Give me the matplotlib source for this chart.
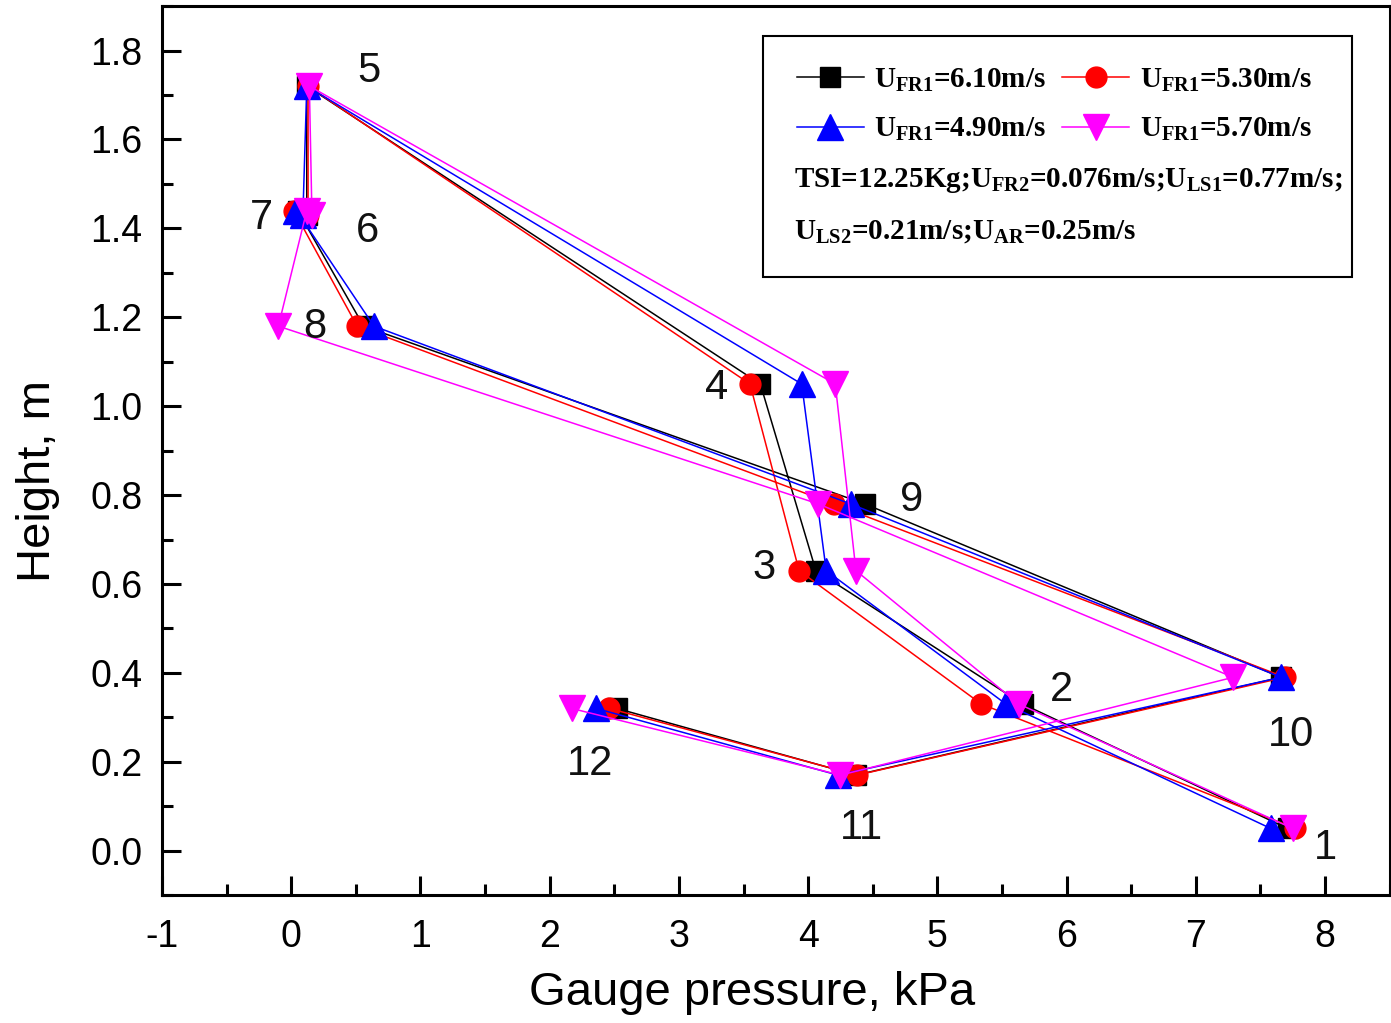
import matplotlib
matplotlib.use("Agg")
import matplotlib.pyplot as plt
from matplotlib.ticker import MultipleLocator
from matplotlib.patches import Rectangle

plt.rcParams['font.family'] = ['Liberation Sans', 'DejaVu Sans']
plt.rcParams['axes.unicode_minus'] = False
plt.rcParams['mathtext.fontset'] = 'custom'
plt.rcParams['mathtext.rm'] = 'Liberation Serif:bold'
plt.rcParams['mathtext.bf'] = 'Liberation Serif:bold'
plt.rcParams['mathtext.it'] = 'Liberation Serif:bold'

# ---- data ----
point_ids = ['1', '2', '3', '4', '5', '6', '7', '8', '9', '10', '11', '12']
heights = [0.05, 0.33, 0.63, 1.05, 1.72, 1.43, 1.44, 1.18, 0.78, 0.39, 0.17, 0.32]

p_610 = [7.71, 5.66, 4.06, 3.63, 0.12, 0.12, 0.05, 0.56, 4.44, 7.66, 4.37, 2.52]
p_530 = [7.77, 5.34, 3.93, 3.55, 0.13, 0.13, 0.02, 0.51, 4.20, 7.69, 4.38, 2.46]
p_490 = [7.58, 5.53, 4.14, 3.95, 0.12, 0.09, 0.04, 0.64, 4.33, 7.66, 4.23, 2.36]
p_570 = [7.75, 5.63, 4.37, 4.21, 0.14, 0.16, 0.12, -0.10, 4.08, 7.29, 4.25, 2.17]

labels = [r'U$_{\mathrm{FR1}}$=6.10m/s', r'U$_{\mathrm{FR1}}$=5.30m/s',
          r'U$_{\mathrm{FR1}}$=4.90m/s', r'U$_{\mathrm{FR1}}$=5.70m/s']
info_line1 = r'TSI=12.25Kg;U$_{\mathrm{FR2}}$=0.076m/s;U$_{\mathrm{LS1}}$=0.77m/s;'
info_line2 = r'U$_{\mathrm{LS2}}$=0.21m/s;U$_{\mathrm{AR}}$=0.25m/s'

# label anchor positions (x, y) for point numbers
label_pos = [(8.0, 0.007), (5.96, 0.362), (3.66, 0.637), (3.29, 1.042),
             (0.60, 1.753), (0.59, 1.393), (-0.23, 1.424), (0.18, 1.179),
             (4.80, 0.790), (7.74, 0.261), (4.41, 0.052), (2.31, 0.194)]

fig = plt.figure(figsize=(13.91, 10.23), dpi=100)
ax = fig.add_axes([0.1165, 0.125, 0.8825, 0.869])

series = [
    (p_610, 'black', 's', 14),
    (p_530, 'red', 'o', 15),
    (p_490, 'blue', '^', 19),
    (p_570, 'magenta', 'v', 19),
]
handles = []
for (xs, c, m, ms), lab in zip(series, labels):
    h, = ax.plot(xs, heights, color=c, marker=m, markersize=ms, lw=1.1,
                 markeredgecolor=c, markerfacecolor=c, label=lab)
    handles.append(h)

for t, (lx, ly) in zip(point_ids, label_pos):
    ax.text(lx, ly, t, fontsize=30, ha='center', va='center', color='#111111')

ax.set_xlim(-1, 8.5)
ax.set_ylim(-0.1, 1.9)
ax.xaxis.set_major_locator(MultipleLocator(1))
ax.xaxis.set_minor_locator(MultipleLocator(0.5))
ax.yaxis.set_major_locator(MultipleLocator(0.2))
ax.yaxis.set_minor_locator(MultipleLocator(0.1))
ax.yaxis.set_major_formatter(plt.FuncFormatter(lambda v, p: f'{v:.1f}'))
ax.tick_params(which='both', direction='in', top=False, right=False, width=2.2)
ax.tick_params(which='major', length=14, labelsize=27, pad=14)
ax.tick_params(axis='x', which='major', pad=17)
ax.tick_params(which='minor', length=8)
for s in ax.spines.values():
    s.set_linewidth(2.2)

ax.set_xlabel('Gauge pressure, kPa', fontsize=34)
ax.set_ylabel('Height, m', fontsize=34)
ax.xaxis.set_label_coords(0.481, -0.0855)
ax.yaxis.set_label_coords(-0.083, 0.466)

# legend box
ax.add_patch(Rectangle((0.4894, 0.695), 0.4796, 0.271, transform=ax.transAxes,
                       fill=False, lw=1.5, edgecolor='black', zorder=5))
leg = ax.legend(handles=[handles[0], handles[2], handles[1], handles[3]],
                ncol=2, frameon=False, loc='upper left',
                bbox_to_anchor=(0.517, 0.932),
                handlelength=2.3, handletextpad=0.36, columnspacing=0.55,
                labelspacing=0.76, borderaxespad=0, borderpad=0,
                prop={'family': 'Liberation Serif', 'weight': 'bold', 'size': 21})
ax.text(0.515, 0.804, info_line1, transform=ax.transAxes, fontsize=21,
        family='Liberation Serif', weight='bold', va='center', ha='left')
ax.text(0.515, 0.746, info_line2, transform=ax.transAxes, fontsize=21,
        family='Liberation Serif', weight='bold', va='center', ha='left')

fig.savefig('out.png', dpi=100)
